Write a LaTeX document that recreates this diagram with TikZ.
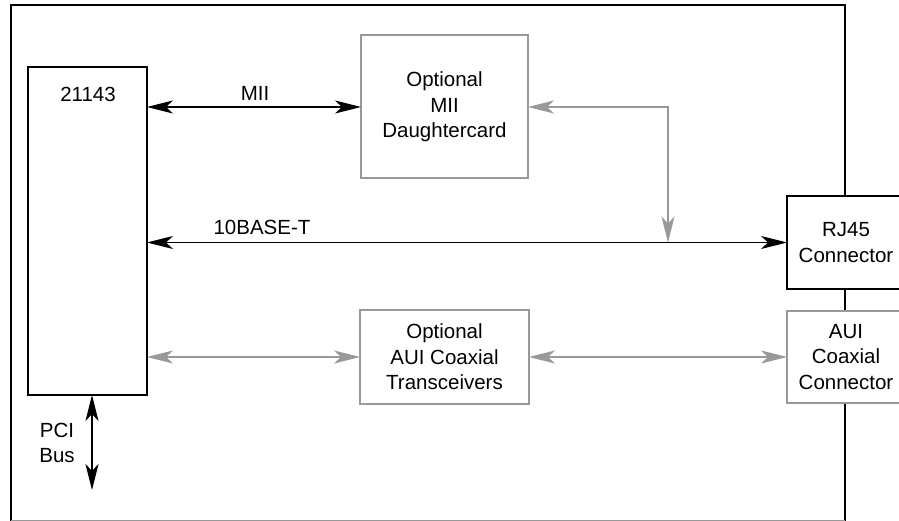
\documentclass[tikz,border=0pt]{standalone}
\usepackage{fontspec}
\setmainfont{Liberation Sans}
\usetikzlibrary{arrows.meta}
\definecolor{gry}{HTML}{999999}
\begin{document}
\begin{tikzpicture}[x=1pt,y=-1pt,
  txt/.style={font=\fontsize{20.5}{25.5}\selectfont, align=center},
  box/.style={txt, draw=black, line width=2pt, fill=white, inner sep=0pt, outer sep=0pt},
  gbox/.style={box, draw=gry},
  lbl/.style={txt, inner sep=0pt},
  >={Stealth[length=26pt,width=13pt,inset=7pt]},
  barrow/.style={line width=1.2pt, draw=black, <->},
  garrow/.style={line width=1.3pt, draw=gry, <->}]
\useasboundingbox (0,0) rectangle (899,521);
\clip (0,0) rectangle (899,521);
% frame
\draw[line width=2pt] (11,523) -- (11,5) -- (845,5) -- (845,523);
\draw[gry, line width=1pt] (11,520) -- (845,520);
% nodes
\node[box, minimum width=119pt, minimum height=328pt] (chip) at (87.5,231) {};
\node[lbl] (chiplbl) at (88,94) {21143};
\node[gbox, minimum width=167pt, minimum height=143pt] (mii) at (444.5,107) {Optional\\MII\\Daughtercard};
\node[box, minimum width=118pt, minimum height=93pt] (rj) at (846,242.5) {RJ45\\Connector};
\node[gbox, minimum width=169pt, minimum height=94pt] (trans) at (444.5,357) {Optional\\AUI Coaxial\\Transceivers};
\node[gbox, minimum width=118pt, minimum height=92pt] (aui) at (846,357) {AUI\\Coaxial\\Connector};
\node[lbl] (miilbl) at (255,93) {MII};
\node[lbl] (tbl) at (262,227) {10BASE-T};
\node[lbl] (pci) at (57,443) {PCI\\Bus};
\coordinate (j) at (668,242.5);
\coordinate (pcie) at (92,490);
% connectors
\draw[barrow] (chip.east |- mii.west) -- (mii.west);
\draw[barrow] (chip.east |- rj.west) -- (rj.west);
\draw[garrow] (mii.east) -| (j);
\draw[garrow] (chip.east |- trans.west) -- (trans.west);
\draw[garrow] (trans.east) -- (aui.west);
\draw[barrow] (chip.south -| pcie) -- (pcie);
\end{tikzpicture}
\end{document}
